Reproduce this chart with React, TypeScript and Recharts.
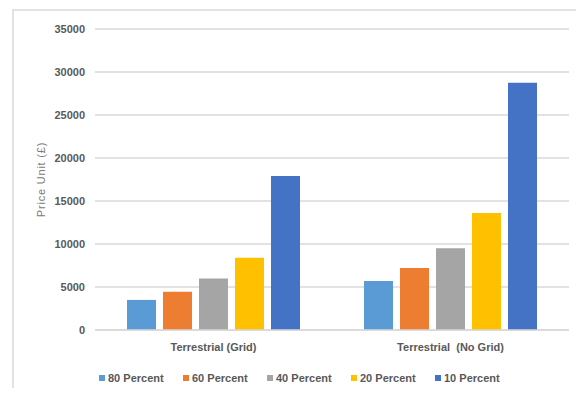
import React from 'react';
import { BarChart, Bar, XAxis, YAxis, CartesianGrid, Legend } from 'recharts';

const categories = ['Terrestrial (Grid)', 'Terrestrial \u00a0(No Grid)'];
const seriesNames = ['80 Percent', '60 Percent', '40 Percent', '20 Percent', '10 Percent'];
const seriesColors = ['#5B9BD5', '#ED7D31', '#A5A5A5', '#FFC000', '#4472C4'];

const percent80 = [3500, 5700];
const percent60 = [4450, 7200];
const percent40 = [6000, 9500];
const percent20 = [8400, 13600];
const percent10 = [17900, 28750];

const yTicks = [0, 5000, 10000, 15000, 20000, 25000, 30000, 35000];

const seriesValues = [percent80, percent60, percent40, percent20, percent10];

const data = categories.map((name, i) => {
  const row: Record<string, string | number> = { name };
  seriesNames.forEach((s, j) => {
    row[s] = seriesValues[j][i];
  });
  return row;
});

const FONT = '"Liberation Sans", Arial, sans-serif';
const TEXT_COLOR = '#595959';

// legend is placed absolutely, so it has a fixed height to keep the plot size stable
const renderLegend = () => (
  <div style={{ display: 'flex', height: 14, fontFamily: FONT, fontSize: 11, fontWeight: 'bold', color: TEXT_COLOR }}>
    {seriesNames.map((s, i) => (
      <div key={s} style={{ width: 84, display: 'flex', alignItems: 'center' }}>
        <span style={{ width: 6, height: 6, background: seriesColors[i], marginRight: 3, display: 'inline-block' }} />
        <span>{s}</span>
      </div>
    ))}
  </div>
);

const App: React.FC = () => {
  return (
    <div style={{ position: 'relative', width: 584, height: 396, margin: -8, overflow: 'hidden', background: '#fff' }}>
      <div
        style={{
          position: 'absolute',
          left: 12,
          top: 9,
          width: 600,
          height: 420,
          border: '2px solid #e2e2e2',
          boxSizing: 'border-box',
        }}
      />
      <div style={{ position: 'absolute', left: 0, top: 0 }}>
        <BarChart
          width={584}
          height={396}
          data={data}
          margin={{ top: 29, right: 15, left: 0, bottom: 6 }}
          barSize={29}
          barGap={7}
        >
          <CartesianGrid vertical={false} stroke="#d9d9d9" strokeWidth={1.3} />
          <XAxis
            dataKey="name"
            height={46}
            axisLine={{ stroke: '#d9d9d9', strokeWidth: 1.3 }}
            tickLine={false}
            tickSize={0}
            tickMargin={13}
            tick={{ fontSize: 11, fontWeight: 'bold', fill: TEXT_COLOR, fontFamily: FONT }}
            interval={0}
          />
          <YAxis
            width={95}
            domain={[0, 35000]}
            ticks={yTicks}
            axisLine={false}
            tickLine={false}
            tickSize={0}
            tickMargin={10}
            tick={{ fontSize: 11, fontWeight: 'bold', fill: TEXT_COLOR, fontFamily: FONT }}
            label={{
              value: 'Price Unit (£)',
              angle: -90,
              position: 'insideLeft',
              offset: 41,
              style: { textAnchor: 'middle', fontSize: 11, fill: '#7a7a7a', fontFamily: FONT, letterSpacing: 0.8 },
            }}
          />
          <Legend
            content={renderLegend}
            wrapperStyle={{ left: 99, top: 371, width: 440 }}
          />
          {seriesNames.map((s, i) => (
            <Bar key={s} dataKey={s} fill={seriesColors[i]} isAnimationActive={false} />
          ))}
        </BarChart>
      </div>
    </div>
  );
};

export default App;
